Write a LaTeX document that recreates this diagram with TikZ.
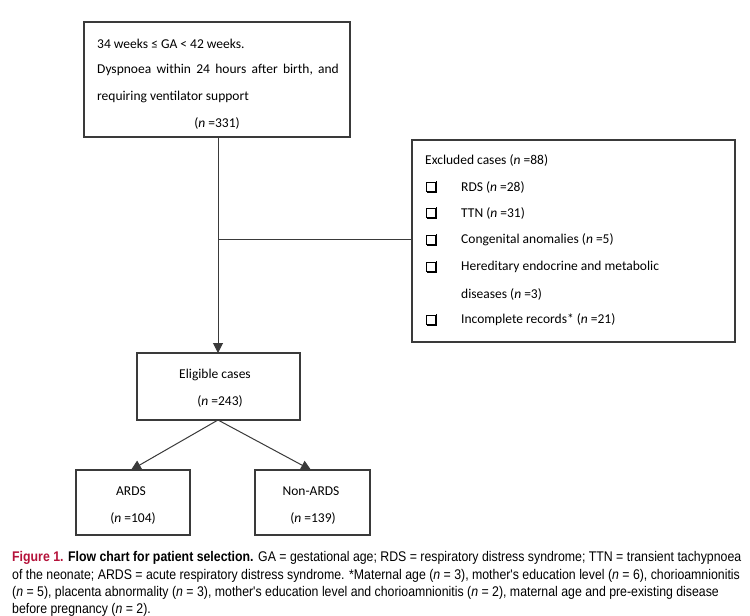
\documentclass[tikz,border=0pt]{standalone}
\usepackage{fontspec}
\setmainfont{Carlito}
\newfontfamily\capfont[FakeStretch=0.88]{Liberation Sans}
\usetikzlibrary{arrows.meta}
\definecolor{figred}{HTML}{B5123A}
\definecolor{boxline}{HTML}{3A3A3A}
\begin{document}
\begin{tikzpicture}[x=1pt,y=-1pt,
  box/.style={draw=boxline,line width=1.1pt},
  txt/.style={anchor=west,inner sep=0pt,font=\fontsize{13.5}{16}\selectfont},
  ctxt/.style={inner sep=0pt,font=\fontsize{13.5}{16}\selectfont},
  conn/.style={draw=boxline,line width=1pt},
  arr/.style={conn,-{Triangle[length=10pt,width=10pt]}},
  captxt/.style={anchor=west,inner sep=0pt,font=\capfont\fontsize{14}{16}\selectfont}]
\useasboundingbox (0,0) rectangle (750,616);
\fill[white] (0,0) rectangle (750,616);
% boxes
\draw[box] (84,22) rectangle (350,137);
\coordinate (topb) at (218,137);
\draw[box] (412,140) rectangle (735,342);
\coordinate (exl) at (412,239);
\draw[box] (137,353) rectangle (300,420);
\coordinate (elt) at (218,353);
\coordinate (elb) at (218,420);
\draw[box] (76,470) rectangle (190,535);
\coordinate (ardst) at (131,470);
\draw[box] (255,470) rectangle (370,535);
\coordinate (nardst) at (311,470);
\coordinate (junc) at (218,239);
% top texts
\node[txt] (t1) at (97,44) {34 weeks ≤ GA < 42 weeks.};
\node[txt] (t2) at (97,70) {Dyspnoea\, within\, 24\, hours\, after\, birth,\, and};
\node[txt] (t3) at (97,97) {requiring ventilator support};
\node[ctxt] (t4) at (217,123) {(\textit{n} =331)};
% excluded texts
\node[txt] (e0) at (425,160) {Excluded cases (\textit{n} =88)};
\foreach \yy/\nm/\tx in {187/e1/{RDS (\textit{n} =28)},213/e2/{TTN (\textit{n} =31)},240/e3/{Congenital anomalies (\textit{n} =5)},267/e4/{Hereditary endocrine and metabolic},320/e6/{Incomplete records* (\textit{n} =21)}}{
  \node[txt] (\nm) at (461,\yy) {\tx};
}
\foreach \yy/\nm in {187/b1,213/b2,240/b3,267/b4,320/b6}{
  \node[draw=black,line width=1pt,minimum size=8.5pt,inner sep=0pt] (\nm) at (431,\yy) {};
  \draw[black,line width=1.4pt] ([xshift=1pt,yshift=-0.7pt]\nm.south west) -- ([xshift=0.7pt,yshift=-0.7pt]\nm.south east) -- ([yshift=1pt,xshift=0.7pt]\nm.north east);
}
\node[txt] (e5) at (461,294) {diseases (\textit{n} =3)};
% eligible
\node[ctxt] (el1) at (215,375) {Eligible cases};
\node[ctxt] (el2) at (220,401) {(\textit{n} =243)};
\node[ctxt] (a1) at (131,491) {ARDS};
\node[ctxt] (a2) at (133,518) {(\textit{n} =104)};
\node[ctxt] (n1) at (311,491) {Non-ARDS};
\node[ctxt] (n2) at (313,518) {(\textit{n} =139)};
% connectors
\draw[arr] (topb) -- (elt);
\draw[conn] (junc) -- (exl);
\draw[arr] (elb) -- (ardst);
\draw[arr] (elb) -- (nardst);
% caption
\node[captxt] (c1) at (12,558) {\textcolor{figred}{\textbf{Figure 1.}} \textbf{Flow chart for patient selection.} GA = gestational age; RDS = respiratory distress syndrome; TTN = transient tachypnoea};
\node[captxt] (c2) at (12,576) {of the neonate; ARDS = acute respiratory distress syndrome. *Maternal age (\textit{n} = 3), mother's education level (\textit{n} = 6), chorioamnionitis};
\node[captxt] (c3) at (12,593) {(\textit{n} = 5), placenta abnormality (\textit{n} = 3), mother's education level and chorioamnionitis (\textit{n} = 2), maternal age and pre-existing disease};
\node[captxt] (c4) at (12,610) {before pregnancy (\textit{n} = 2).};
\end{tikzpicture}
\end{document}
